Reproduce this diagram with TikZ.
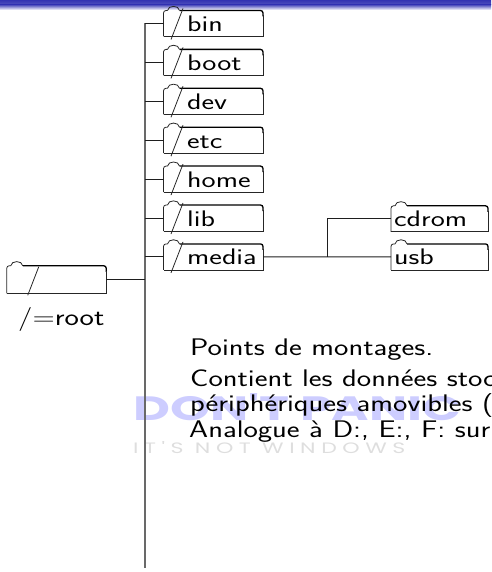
\documentclass[tikz,border=0pt]{standalone}
\usepackage{fontspec}
\newfontfamily\panicfont{Poppins}
\newfontfamily\winfont[LetterSpace=25]{Poppins}
\usetikzlibrary{calc}
\definecolor{barblue}{RGB}{51,51,178}
\definecolor{panicblue}{RGB}{205,205,255}
\definecolor{wingray}{RGB}{222,222,222}
\definecolor{trunkgray}{RGB}{105,105,105}
\definecolor{linegray}{RGB}{30,30,30}
\newcommand\sxl[1]{\scalebox{1.33}[1]{#1}}
\newcommand\sxb[1]{\scalebox{1.27}[1]{#1}}
\newcommand\drawfold[1]{%
  \draw[fline,rounded corners=2.5pt] (#1.south west) -- (#1.north west) -- ($(#1.north west)+(4,0)$);
  \draw[fline] ($(#1.north west)+(4,0)$) .. controls +(0.5,-5.5) and +(-0.5,-5.5) .. ($(#1.north west)+(16,0)$);
  \draw[topline,rounded corners=2.5pt] ($(#1.north west)+(16,0)$) -- (#1.north east) -- ($(#1.north east)+(0,6)$);
  \draw[fline] ($(#1.north east)+(0,5)$) -- (#1.south east) -- (#1.south west);
}
\newcommand\drawslash[1]{%
  \draw[fline] ($(#1.north west)+(19.5,-2)$) -- ($(#1.south west)+(7.5,3)$);
}
\begin{document}
\begin{tikzpicture}[x=1pt,y=-1pt,
  fold/.style={minimum width=99.5pt,minimum height=26pt,inner sep=0pt,outer sep=0pt},
  fline/.style={line width=0.8pt,black!85},
  topline/.style={line width=1.3pt,black},
  conn/.style={line width=1pt,linegray},
  lab/.style={anchor=base west,inner sep=0pt,font=\sffamily\fontsize{22.5}{27}\selectfont},
  body/.style={anchor=base west,inner sep=0pt,font=\sffamily\fontsize{24}{29}\selectfont}]
\useasboundingbox (0,0) rectangle (491,572);
\clip (0,0) rectangle (491,572);
% header bar
\shade[top color=barblue,bottom color=barblue!85] (0,0) rectangle (491,5);
\shade[top color=barblue!85,bottom color=white] (0,5) rectangle (491,10);
% watermark
\node[anchor=base west,inner sep=0pt,text=panicblue] (panic) at (133,420)
  {\resizebox{328pt}{27pt}{\panicfont\bfseries DON'T PANIC}};
\node[anchor=base west,inner sep=0pt,text=wingray] (win) at (133,453)
  {\resizebox{272pt}{12pt}{\winfont IT'S NOT WINDOWS}};
% trunk
\coordinate (ttop) at (145,23.5);
\coordinate (tbot) at (145,568);
\draw[line width=1.1pt,trunkgray] (ttop) -- (tbot);
% folders
\foreach \n/\t [count=\i from 0] in {bin/bin,boot/boot,dev/dev,etc/etc,home/home,lib/lib,media/media}{
  \node[fold] (\n) at (213.25,23.5+38.9*\i) {};
  \drawfold{\n}
  \drawslash{\n}
  \node[lab] (\n l) at ($(\n.south west)+(23.5,-5)$) {\sxl{\t}};
  \draw[conn] (\n.west -| ttop) -- (\n.west);
}
% children
\node[fold,minimum width=97pt] (cdrom) at (439.5,218.8) {};
\node[fold,minimum width=97pt] (usb) at (439.5,256.9) {};
\drawfold{cdrom}
\drawfold{usb}
\node[lab] (cdroml) at ($(cdrom.south west)+(3,-5)$) {\sxl{cdrom}};
\node[lab] (usbl) at ($(usb.south west)+(3,-5)$) {\sxl{usb}};
\coordinate (br) at (327,256.9);
\draw[conn] (media.east) -- (usb.west);
\draw[conn] (br) |- (cdrom.west);
% root
\node[fold,minimum width=99.5pt,minimum height=27.5pt] (root) at (56.5,279.5) {};
\drawfold{root}
\draw[fline] ($(root.north west)+(32,1)$) -- ($(root.south west)+(21,2)$);
\draw[conn] (root.east) -- (root.east -| ttop);
\node[body] (rootl) at (18,325) {\sxb{/=root}};
% body text
\node[body] (t1) at (190,355) {\sxb{Points de montages.}};
\node[body] (t2) at (190,386) {\sxb{Contient les données stoc}};
\node[body] (t3) at (190,411) {\sxb{périphériques amovibles (}};
\node[body] (t4) at (189,437) {\sxb{Analogue à D:, E:, F: sur}};
\end{tikzpicture}
\end{document}
